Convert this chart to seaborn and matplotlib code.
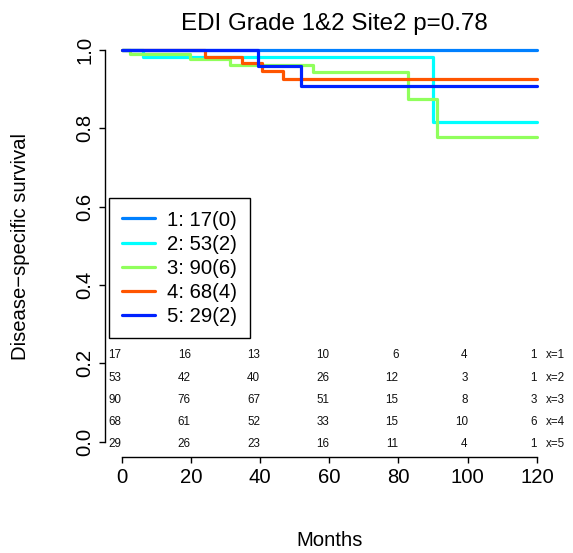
import matplotlib
matplotlib.use("Agg")
import matplotlib.pyplot as plt
import seaborn as sns
import pandas as pd
from matplotlib.lines import Line2D

# Kaplan-Meier step curves (event times in months, survival after each step)
groups = ["1", "2", "3", "4", "5"]
legend_labels = ["1: 17(0)", "2: 53(2)", "3: 90(6)", "4: 68(4)", "5: 29(2)"]
colors = ["#0080FF", "#00FFFF", "#90FF5C", "#FF5500", "#0022FF"]

times_1 = [0, 120]
surv_1 = [1.0, 1.0]
times_2 = [0, 6.2, 90, 120]
surv_2 = [1.0, 0.981, 0.817, 0.817]
times_3 = [0, 2.3, 19.9, 31.2, 55.3, 82.8, 91, 120]
surv_3 = [1.0, 0.989, 0.976, 0.962, 0.943, 0.875, 0.779, 0.779]
times_4 = [0, 24.2, 34.8, 40.6, 46.7, 120]
surv_4 = [1.0, 0.983, 0.966, 0.947, 0.926, 0.926]
times_5 = [0, 39.4, 51.7, 120]
surv_5 = [1.0, 0.959, 0.908, 0.908]

# Numbers at risk at each time point
risk_times = [0, 20, 40, 60, 80, 100, 120]
risk_1 = [17, 16, 13, 10, 6, 4, 1]
risk_2 = [53, 42, 40, 26, 12, 3, 1]
risk_3 = [90, 76, 67, 51, 15, 8, 3]
risk_4 = [68, 61, 52, 33, 15, 10, 6]
risk_5 = [29, 26, 23, 16, 11, 4, 1]
risk_labels = ["x=1", "x=2", "x=3", "x=4", "x=5"]

x_ticks = [0, 20, 40, 60, 80, 100, 120]
y_ticks = [0.0, 0.2, 0.4, 0.6, 0.8, 1.0]

sns.set_style("white")
plt.rcParams["font.family"] = ["Liberation Sans", "DejaVu Sans"]
plt.rcParams["text.color"] = "black"

all_times = [times_1, times_2, times_3, times_4, times_5]
all_surv = [surv_1, surv_2, surv_3, surv_4, surv_5]
rows = []
for g, ts, ss in zip(groups, all_times, all_surv):
    for t, s in zip(ts, ss):
        rows.append({"month": t, "surv": s, "group": g})
df = pd.DataFrame(rows)

W, H = 573, 553
FS = 14.6
fig = plt.figure(figsize=(W / 100, H / 100), dpi=100)
ax = fig.add_axes([105 / W, 1 - 457.2 / H, (553.5 - 105) / W, (457.2 - 34.3) / H])

sns.lineplot(data=df, x="month", y="surv", hue="group", hue_order=groups,
             palette=colors, drawstyle="steps-post", estimator=None,
             linewidth=2.3, legend=False, ax=ax)

ax.set_xlim(-4.8, 124.8)
ax.set_ylim(-0.04, 1.04)
ax.set_xticks(x_ticks)
ax.set_xticklabels([str(v) for v in x_ticks])
ax.set_yticks(y_ticks)
ax.set_yticklabels([f"{v:.1f}" for v in y_ticks], rotation=90, va="center")
ax.set_xlabel("")
ax.set_ylabel("")

for side in ["top", "right"]:
    ax.spines[side].set_visible(False)
ax.spines["left"].set_bounds(0, 1)
ax.spines["bottom"].set_bounds(0, 120)
for side in ["left", "bottom"]:
    ax.spines[side].set_linewidth(1.0)
    ax.spines[side].set_color("black")
ax.tick_params(axis="both", which="major", direction="out", length=4,
               width=1.0, color="black", labelsize=FS, labelcolor="black",
               bottom=True, left=True)
ax.tick_params(axis="x", pad=4)
ax.tick_params(axis="y", pad=3.5)

# Numbers-at-risk table inside the plot
all_risk = [risk_1, risk_2, risk_3, risk_4, risk_5]
for i, (counts, lab) in enumerate(zip(all_risk, risk_labels)):
    y = 0.22 - 0.0565 * i
    for t, c in zip(risk_times, counts):
        ax.text(t, y, str(c), ha="right", va="center", fontsize=8.4, color="#111111")
    ax.text(122.6, y, lab, ha="left", va="center", fontsize=8.4, color="#111111",
            clip_on=False)

handles = [Line2D([0], [0], color=c, lw=2.3) for c in colors]
leg = ax.legend(handles, legend_labels, loc="upper left",
                bbox_to_anchor=(109.3 / W, 1 - 198 / H),
                bbox_transform=fig.transFigure, borderaxespad=0,
                fontsize=FS, frameon=True, fancybox=False, framealpha=1,
                edgecolor="black", handlelength=1.65, handletextpad=0.6,
                labelspacing=0.25, borderpad=0.62)
leg.get_frame().set_linewidth(1.0)

fig.text(334 / W, 1 - 30 / H, "EDI Grade 1&2 Site2 p=0.78", ha="center",
         va="baseline", fontsize=17.4)
fig.text(330 / W, 1 - 541 / H, "Months", ha="center", va="center", fontsize=FS)
fig.text(21 / W, 1 - 246 / H, "Disease\u2212specific survival", ha="center",
         va="center", rotation=90, fontsize=FS)

fig.savefig("out.png", dpi=100)
